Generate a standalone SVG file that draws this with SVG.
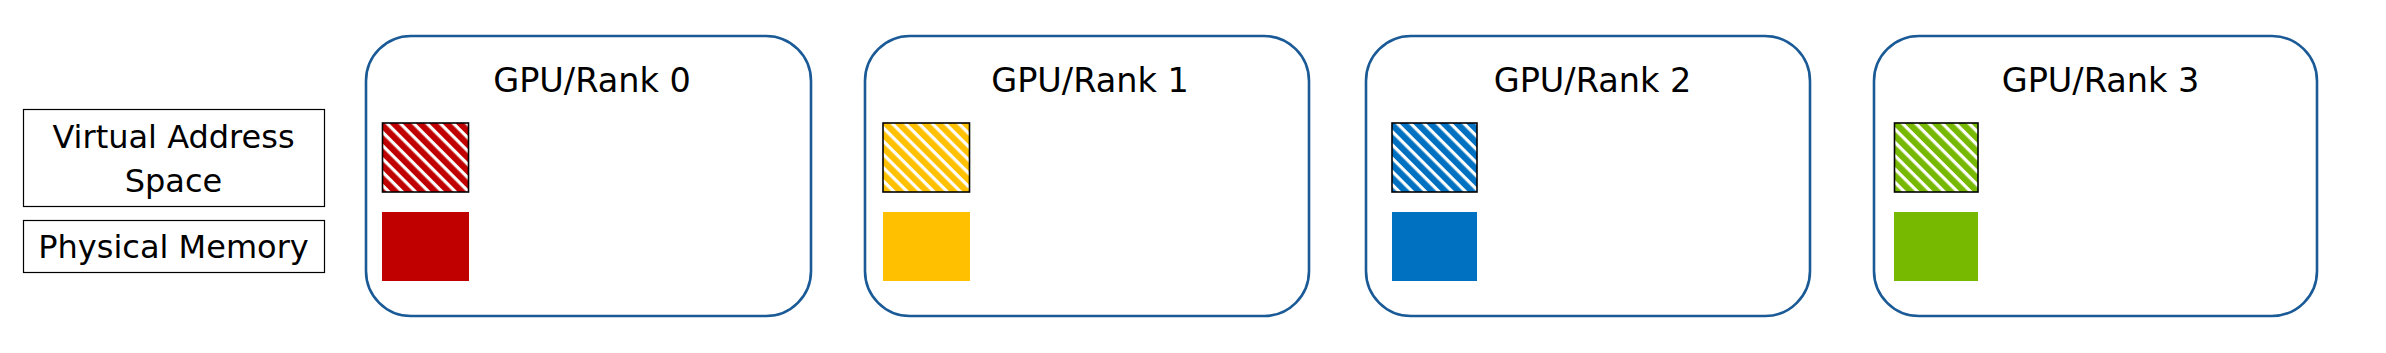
<svg xmlns="http://www.w3.org/2000/svg" width="2386" height="353" viewBox="0 0 2386 353">
<style>
.gpu{fill:#fff;stroke:#1A5A96;stroke-width:2.6}
.lg{fill:#fff;stroke:#000;stroke-width:1.2}
.hat{stroke:#000;stroke-width:1.6}
.t{font-family:"DejaVu Sans",Verdana,sans-serif;fill:#000;text-anchor:middle}
.tt{font-size:33.5px}
.tl{font-size:32px}
</style>
<defs>
<pattern id="pRed" width="9.4" height="9.4" patternUnits="userSpaceOnUse" patternTransform="rotate(-45)"><rect width="9.4" height="9.4" fill="#fff"/><rect width="6.2" height="9.4" fill="#C00000"/></pattern>
<pattern id="pYel" width="9.4" height="9.4" patternUnits="userSpaceOnUse" patternTransform="rotate(-45)"><rect width="9.4" height="9.4" fill="#fff"/><rect width="6.2" height="9.4" fill="#FFC000"/></pattern>
<pattern id="pBlu" width="9.4" height="9.4" patternUnits="userSpaceOnUse" patternTransform="rotate(-45)"><rect width="9.4" height="9.4" fill="#fff"/><rect width="6.2" height="9.4" fill="#0070C0"/></pattern>
<pattern id="pGrn" width="9.4" height="9.4" patternUnits="userSpaceOnUse" patternTransform="rotate(-45)"><rect width="9.4" height="9.4" fill="#fff"/><rect width="6.2" height="9.4" fill="#76B900"/></pattern>
</defs>
<rect width="2386" height="353" fill="#fff"/>
<g id="legend-virtual">
<rect class="lg" x="23.5" y="109.5" width="301" height="97"/>
<text class="t tl" x="173.5" y="148">Virtual Address</text>
<text class="t tl" x="173.5" y="191.5">Space</text>
</g>
<g id="legend-physical">
<rect class="lg" x="23.5" y="220.5" width="301" height="52"/>
<text class="t tl" x="173.5" y="258">Physical Memory</text>
</g>
<g id="gpu0">
<rect class="gpu" x="366" y="36" width="445" height="280" rx="45" ry="45"/>
<text class="t tt" x="592" y="92">GPU/Rank 0</text>
<rect class="hat" x="382.5" y="123" width="86" height="69" fill="url(#pRed)"/>
<rect x="382" y="212" width="87" height="69" fill="#C00000"/>
</g>
<g id="gpu1">
<rect class="gpu" x="865" y="36" width="444" height="280" rx="45" ry="45"/>
<text class="t tt" x="1090" y="92">GPU/Rank 1</text>
<rect class="hat" x="883" y="123" width="86.5" height="69" fill="url(#pYel)"/>
<rect x="883" y="212" width="87" height="69" fill="#FFC000"/>
</g>
<g id="gpu2">
<rect class="gpu" x="1366" y="36" width="444" height="280" rx="45" ry="45"/>
<text class="t tt" x="1592.5" y="92">GPU/Rank 2</text>
<rect class="hat" x="1392" y="123" width="85" height="69" fill="url(#pBlu)"/>
<rect x="1392" y="212" width="85" height="69" fill="#0070C0"/>
</g>
<g id="gpu3">
<rect class="gpu" x="1874" y="36" width="443" height="280" rx="45" ry="45"/>
<text class="t tt" x="2100.5" y="92">GPU/Rank 3</text>
<rect class="hat" x="1894.5" y="123" width="83.5" height="69" fill="url(#pGrn)"/>
<rect x="1894" y="212" width="84" height="69" fill="#76B900"/>
</g>
<g id="connectors"/>
</svg>
